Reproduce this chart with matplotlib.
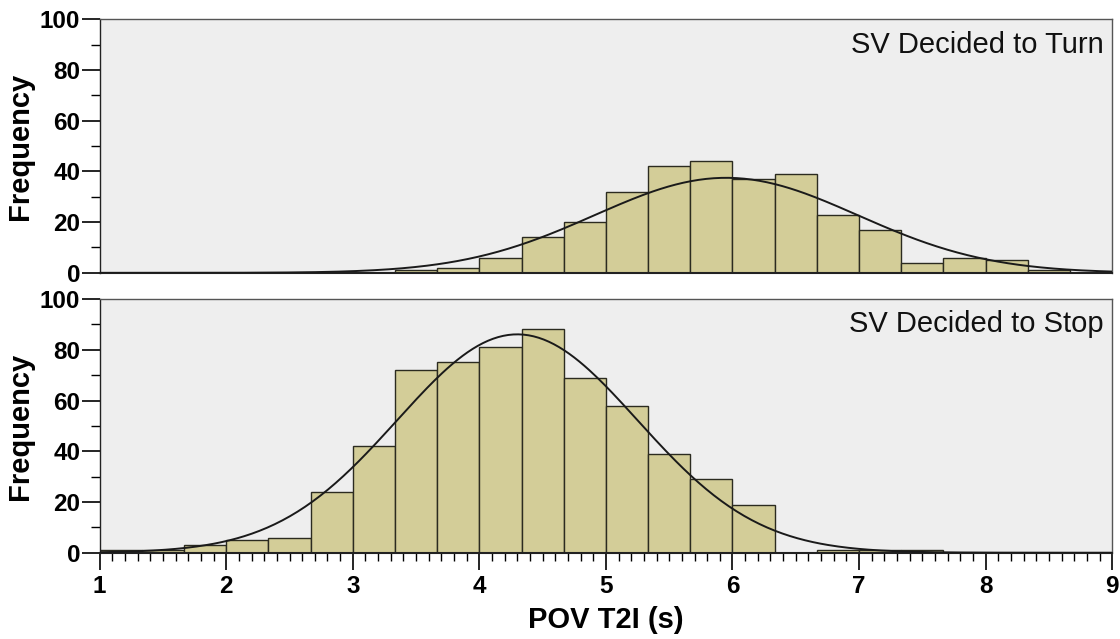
import numpy as np
import matplotlib.pyplot as plt
from matplotlib.ticker import MultipleLocator

plt.rcParams['font.family'] = ['Liberation Sans', 'DejaVu Sans']

# bin edges: 1/3 s wide, from 1 to 9 s
bin_edges = np.arange(1, 9.0001, 1 / 3)

# counts per bin
turn_counts = [0, 0, 0, 0, 0, 0, 0, 1, 2, 6, 14, 20,
               32, 42, 44, 37, 39, 23, 17, 4, 6, 5, 1, 0]
stop_counts = [1, 1, 3, 5, 6, 24, 42, 72, 75, 81, 88, 69,
               58, 39, 29, 19, 0, 1, 1, 1, 0, 0, 0, 0]

# normal fit parameters (mean, sd) estimated from the curves
turn_fit = (5.95, 1.04)
stop_fit = (4.30, 0.95)

panel_labels = ['SV Decided to Turn', 'SV Decided to Stop']

bar_color = '#d3cd98'
bg_color = '#eeeeee'

fig = plt.figure(figsize=(11.2, 6.39), dpi=100)
ax1 = fig.add_axes([0.089, 0.573, 0.904, 0.397])
ax2 = fig.add_axes([0.089, 0.135, 0.904, 0.397])

width = bin_edges[1] - bin_edges[0]
xs = np.linspace(1, 9, 400)

for ax, counts, fit, label in zip([ax1, ax2], [turn_counts, stop_counts],
                                  [turn_fit, stop_fit], panel_labels):
    ax.set_facecolor(bg_color)
    ax.bar(bin_edges[:-1], counts, width=width, align='edge',
           color=bar_color, edgecolor='#2b2b20', linewidth=1.0, zorder=2)
    mu, sd = fit
    n = sum(counts)
    curve = n * width / (sd * np.sqrt(2 * np.pi)) * np.exp(-(xs - mu) ** 2 / (2 * sd ** 2))
    ax.plot(xs, curve, color='#1a1a1a', linewidth=1.4, zorder=3)

    ax.set_xlim(1, 9)
    ax.set_ylim(0, 100)
    ax.yaxis.set_major_locator(MultipleLocator(20))
    ax.yaxis.set_minor_locator(MultipleLocator(10))
    ax.tick_params(axis='y', which='major', length=13, width=1.2, labelsize=17.5, pad=1)
    ax.tick_params(axis='y', which='minor', length=6.5, width=1.0)
    for t in ax.get_yticklabels():
        t.set_fontweight('bold')
    ax.set_ylabel('Frequency', fontsize=21, fontweight='bold', labelpad=4)
    for s in ax.spines.values():
        s.set_color('#555555')
        s.set_linewidth(1.0)
    ax.spines['left'].set_color('#222222')
    ax.spines['bottom'].set_color('#222222')
    ax.spines['bottom'].set_linewidth(1.5)
    ax.text(0.992, 0.955, label, transform=ax.transAxes, ha='right', va='top',
            fontsize=21, color='#111111')

ax1.tick_params(axis='x', which='both', bottom=False, labelbottom=False)

ax2.xaxis.set_major_locator(MultipleLocator(1))
ax2.xaxis.set_minor_locator(MultipleLocator(0.1))
ax2.tick_params(axis='x', which='major', length=12, width=1.2, labelsize=17.5, pad=4)
ax2.tick_params(axis='x', which='minor', length=6, width=1.0)
for t in ax2.get_xticklabels():
    t.set_fontweight('bold')
ax2.set_xlabel('POV T2I (s)', fontsize=21, fontweight='bold', labelpad=6)

fig.savefig('out.png', dpi=100)
